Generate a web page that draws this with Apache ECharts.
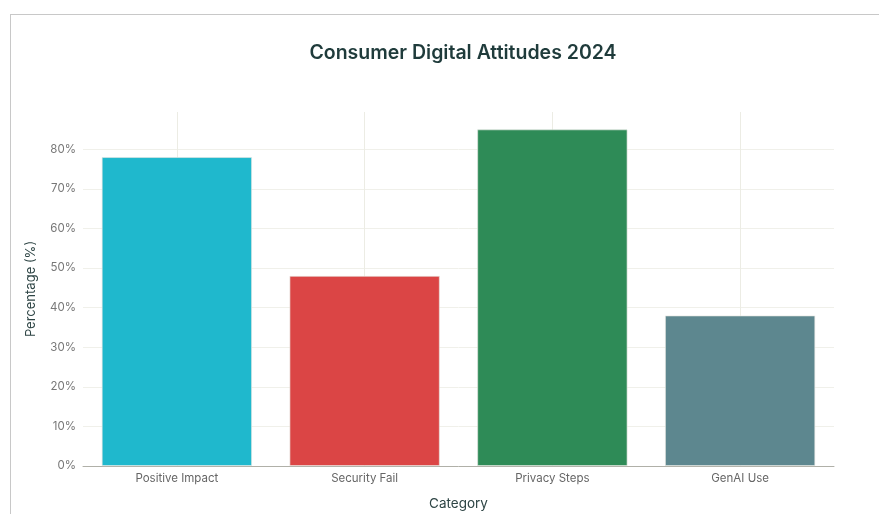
<!DOCTYPE html>
<html>
<head>
<meta charset="utf-8">
<script src="https://cdn.jsdelivr.net/npm/echarts@6/dist/echarts.min.js"></script>
<style>
html,body{margin:0;padding:0;background:#fff;overflow:hidden;width:879px;height:514px;}
#chart{width:879px;height:514px;position:absolute;left:0;top:0;}
#frame{position:absolute;left:10px;top:14px;width:869px;height:500px;border-top:1px solid #c8c8c8;border-left:1px solid #c8c8c8;pointer-events:none;box-sizing:border-box;}
</style>
</head>
<body>
<div id="chart"></div>
<div id="frame"></div>
<script>
const categories = ['Positive Impact', 'Security Fail', 'Privacy Steps', 'GenAI Use'];
const values = [78, 48, 85, 38];
const barColors = ['#1FB8CD', '#DB4545', '#2E8B57', '#5D878F'];

const chart = echarts.init(document.getElementById('chart'), null, {renderer: 'canvas', width: 879, height: 514});
const gridColors = ['#f0f0ea','#f0f0ea','#f0f0ea','#f0f0ea','#f0f0ea','#f0f0ea','#f0f0ea','#f0f0ea','#f0f0ea','rgba(0,0,0,0)'];
const FONT = 'Inter, Liberation Sans, sans-serif';
chart.setOption({
  animation: false,
  title: {
    text: 'Consumer Digital Attitudes 2024',
    left: 458,
    textAlign: 'center',
    top: 38,
    textStyle: {fontFamily: FONT, fontSize: 19.5, fontWeight: 600, color: '#1f3b3b'}
  },
  grid: {left: 83, right: 45, top: 112, bottom: 48, containLabel: false, outerBoundsMode: 'none'},
  xAxis: {
    type: 'category',
    data: categories,
    name: 'Category',
    nameLocation: 'middle',
    nameGap: 31,
    nameTextStyle: {fontFamily: FONT, fontSize: 13.5, color: '#2e4545'},
    axisLine: {lineStyle: {color: '#b0b0a8', width: 1}},
    axisTick: {show: false},
    axisLabel: {fontFamily: FONT, fontSize: 11.5, color: '#666', margin: 7},
    splitLine: {show: false}
  },
  yAxis: {
    type: 'value',
    min: 0,
    max: 89.4,
    interval: 10,
    name: 'Percentage (%)',
    nameLocation: 'middle',
    nameGap: 45,
    nameTextStyle: {fontFamily: FONT, fontSize: 13, color: '#2e4545'},
    axisLine: {show: false},
    axisTick: {show: false},
    axisLabel: {fontFamily: FONT, fontSize: 11.5, color: '#777', margin: 7, showMaxLabel: false,
      formatter: v => (v % 10 === 0 ? v + '%' : '')},
    splitLine: {lineStyle: {color: gridColors, width: 1}}
  },
  series: [
    {
      type: 'line',
      data: [],
      z: 1,
      silent: true,
      markLine: {
        silent: true,
        z: 1,
        symbol: ['none', 'none'],
        label: {show: false},
        lineStyle: {color: '#ecece4', width: 1, type: 'solid'},
        emphasis: {disabled: true},
        data: categories.map(c => ({xAxis: c}))
      }
    },
    {
      type: 'bar',
      z: 3,
      barCategoryGap: '20%',
      data: values.map((v, i) => ({value: v, itemStyle: {color: barColors[i]}})),
      itemStyle: {borderColor: 'rgba(230,230,225,0.8)', borderWidth: 0.8}
    }
  ]
});
</script>
</body>
</html>
